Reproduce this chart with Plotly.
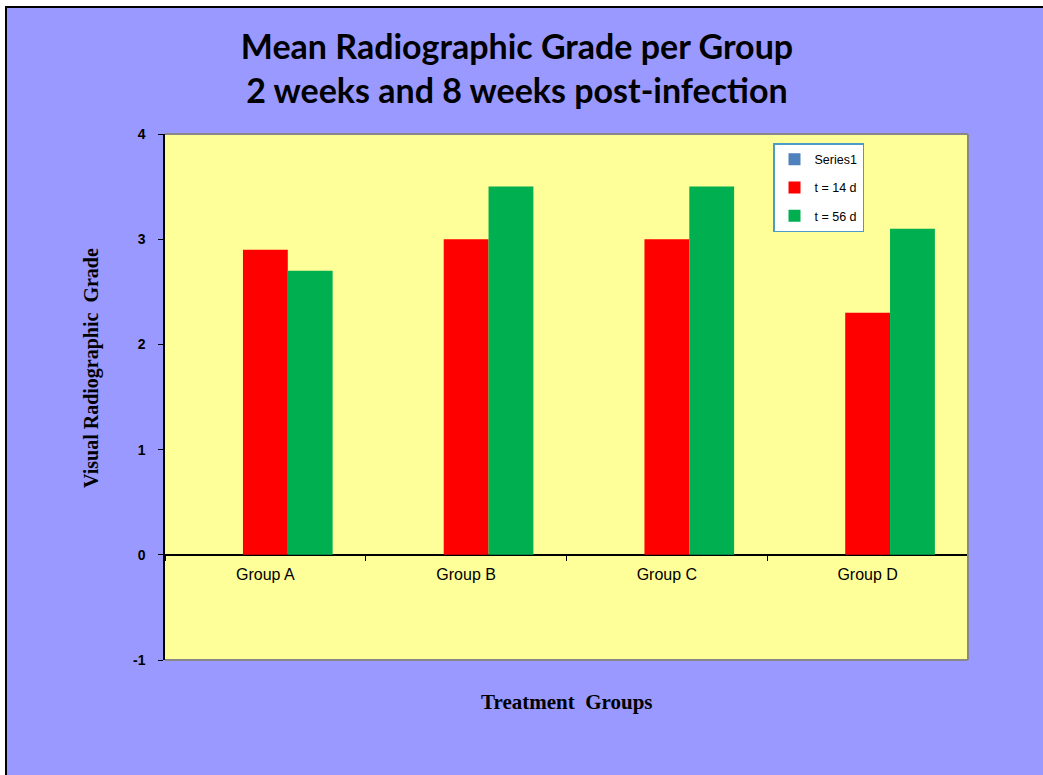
import plotly.graph_objects as go

categories = ["Group A", "Group B", "Group C", "Group D"]
series_names = ["Series1", "t = 14 d", "t = 56 d"]
series1 = [None, None, None, None]
t14 = [2.9, 3.0, 3.0, 2.3]
t56 = [2.7, 3.5, 3.5, 3.1]
colors = ["#4F81BD", "#FF0000", "#00B050"]
y_ticks = [-1, 0, 1, 2, 3, 4]
y_ticktext = ["-1", "0", "1", "2", "3", "4"]

title_text = "Mean Radiographic Grade per Group<br>2 weeks and 8 weeks post-infection"
y_title = "Visual Radiographic  Grade"
x_title = "Treatment  Groups"

W, H = 1043, 775
# plot-area edges in page pixels
PL, PR, PT, PB = 165, 968, 134, 660

fig = go.Figure()
for i, (name, vals) in enumerate(zip(series_names, [series1, t14, t56])):
    fig.add_trace(go.Bar(
        x=categories, y=vals, name=name,
        marker=dict(color=colors[i], line=dict(width=0)),
        legendgroup=f"g{i}",
    ))

def px(xp):
    return (xp - PL) / (PR - PL)

def py(yp):
    return 1 - (yp - PT) / (PB - PT)

fig.update_layout(
    width=W, height=H,
    margin=dict(l=PL, r=W - PR, t=PT, b=H - PB, pad=0),
    paper_bgcolor="#9999FF",
    plot_bgcolor="#FFFF99",
    barmode="group",
    bargap=0.33,
    bargroupgap=0,
    showlegend=True,
    title=dict(
        text=title_text,
        x=517 / W, xanchor="center",
        y=1 - 59 / H, yanchor="middle", yref="container",
        font=dict(family="Lato", size=34, color="#000000", weight="bold"),
    ),
    legend=dict(
        x=px(773), y=py(143), xanchor="left", yanchor="top",
        bgcolor="#FFFFFF", bordercolor="#4A9BC7", borderwidth=1.5,
        font=dict(family="Arial, Liberation Sans", size=12.5, color="#000000"),
        tracegroupgap=9, itemwidth=30,
    ),
    xaxis=dict(
        anchor="free", position=0.2,
        showline=True, linecolor="#000000", linewidth=1,
        ticks="outside", tickson="boundaries", ticklen=5, tickcolor="#000000",
        ticklabelstandoff=5,
        tickfont=dict(family="Arial, Liberation Sans", size=16, color="#000000"),
        showgrid=False, zeroline=False,
    ),
    yaxis=dict(
        range=[-1, 4], tickvals=y_ticks, ticktext=y_ticktext, domain=[0, 1],
        showline=True, linecolor="#000000", linewidth=1.5,
        ticks="outside", ticklen=5, tickcolor="#000000",
        ticklabelstandoff=10,
        tickfont=dict(family="Arial, Liberation Sans", size=14, color="#000000", weight="bold"),
        showgrid=False, zeroline=True, zerolinecolor="#000000", zerolinewidth=1,
    ),
    shapes=[
        # plot area gray border (top, right, bottom)
        dict(type="line", xref="paper", yref="paper", x0=0, x1=1, y0=1, y1=1,
             line=dict(color="#888888", width=2)),
        dict(type="line", xref="paper", yref="paper", x0=1, x1=1, y0=0, y1=1,
             line=dict(color="#888888", width=2)),
        dict(type="line", xref="paper", yref="paper", x0=0, x1=1, y0=0, y1=0,
             line=dict(color="#888888", width=2)),
        # white outer strips (left, top)
        dict(type="rect", xref="paper", yref="paper", x0=px(-2), x1=px(5),
             y0=py(H + 2), y1=py(-2), fillcolor="#FFFFFF", line=dict(width=0)),
        dict(type="rect", xref="paper", yref="paper", x0=px(-2), x1=px(W + 2),
             y0=py(6), y1=py(-2), fillcolor="#FFFFFF", line=dict(width=0)),
        # black frame lines (left, top)
        dict(type="line", xref="paper", yref="paper", x0=px(6), x1=px(6),
             y0=py(6), y1=py(H + 2), line=dict(color="#000000", width=2)),
        dict(type="line", xref="paper", yref="paper", x0=px(5), x1=px(W + 2),
             y0=py(7), y1=py(7), line=dict(color="#000000", width=2)),
    ],
    annotations=[
        dict(text=y_title, xref="paper", yref="paper", x=px(92), y=py(368),
             xanchor="center", yanchor="middle", textangle=-90, showarrow=False,
             font=dict(family="Liberation Serif", size=20, color="#000000", weight="bold")),
        dict(text=x_title, xref="paper", yref="paper", x=px(567), y=py(702),
             xanchor="center", yanchor="middle", showarrow=False,
             font=dict(family="Liberation Serif", size=21, color="#000000", weight="bold")),
    ],
)

fig.write_html("out.html", config={"displayModeBar": False},
               post_script="document.body.style.margin='0';")
